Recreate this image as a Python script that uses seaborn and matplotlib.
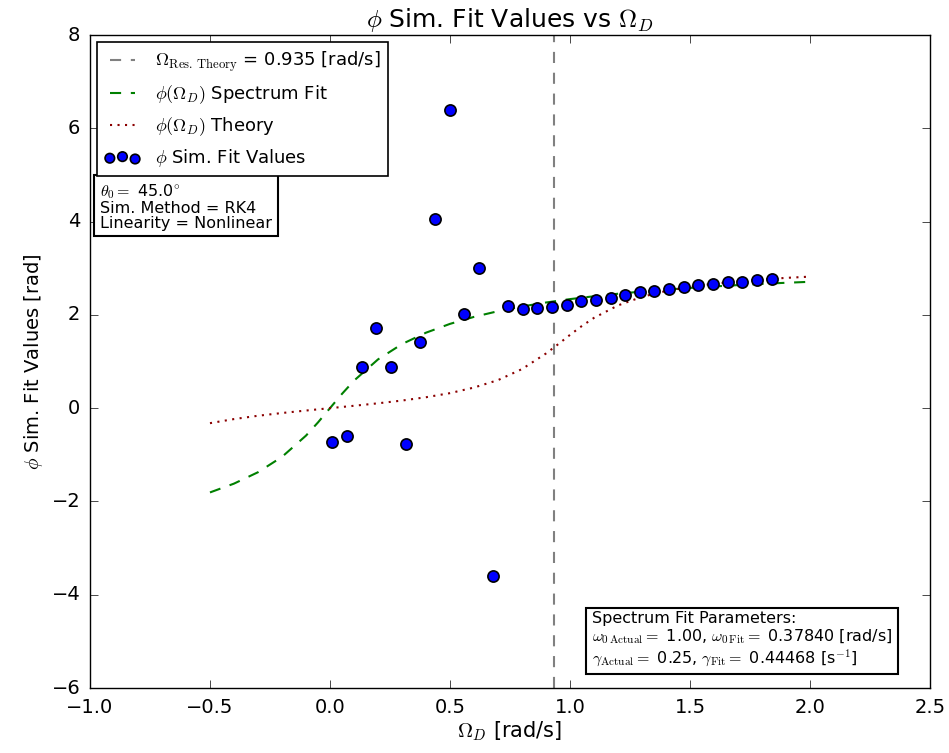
import numpy as np
import pandas as pd
import matplotlib
matplotlib.use("Agg")
import matplotlib.pyplot as plt
import seaborn as sns

# ---- data ----
sim_x = [0.01, 0.071, 0.132, 0.193, 0.254, 0.315, 0.376, 0.437, 0.498, 0.559,
         0.62, 0.681, 0.742, 0.803, 0.864, 0.925, 0.986, 1.047, 1.108, 1.169,
         1.23, 1.291, 1.352, 1.413, 1.474, 1.535, 1.596, 1.657, 1.718, 1.779, 1.84]
sim_phi = [-0.72, -0.59, 0.89, 1.72, 0.89, -0.76, 1.42, 4.06, 6.40, 2.02,
           3.00, -3.60, 2.20, 2.12, 2.14, 2.165, 2.215, 2.29, 2.31, 2.365,
           2.42, 2.48, 2.52, 2.56, 2.60, 2.64, 2.67, 2.695, 2.715, 2.75, 2.765]

fit_x = [-0.5, -0.4, -0.3, -0.2, -0.1, -0.05, 0.0, 0.05, 0.1, 0.2, 0.3, 0.4, 0.5,
         0.6, 0.7, 0.8, 0.9, 1.0, 1.1, 1.2, 1.3, 1.4, 1.5, 1.6, 1.7, 1.8, 1.9, 2.0]
fit_phi = [-1.807, -1.618, -1.374, -1.045, -0.589, -0.306, 0.0, 0.306, 0.589, 1.045,
           1.374, 1.618, 1.807, 1.957, 2.079, 2.180, 2.265, 2.338, 2.399, 2.453,
           2.500, 2.541, 2.577, 2.609, 2.638, 2.665, 2.688, 2.709]

theory_x = [-0.5, -0.4, -0.3, -0.2, -0.1, 0.0, 0.1, 0.2, 0.3, 0.4, 0.5, 0.6, 0.7,
            0.8, 0.9, 0.95, 1.0, 1.05, 1.1, 1.2, 1.3, 1.4, 1.5, 1.6, 1.7, 1.8, 1.9, 2.0]
theory_phi = [-0.322, -0.234, -0.163, -0.104, -0.051, 0.0, 0.051, 0.104, 0.163, 0.234,
              0.322, 0.442, 0.601, 0.838, 1.172, 1.368, 1.571, 1.764, 1.936, 2.203,
              2.386, 2.512, 2.601, 2.668, 2.719, 2.759, 2.793, 2.820]

omega_res = 0.935

plt.style.use("classic")
plt.rcParams["figure.facecolor"] = "white"
plt.rcParams["savefig.facecolor"] = "white"
plt.rcParams["font.family"] = ["DejaVu Sans"]
plt.rcParams["mathtext.fontset"] = "cm"
plt.rcParams["lines.scale_dashes"] = False

fig = plt.figure(figsize=(9.49, 7.53), dpi=100)
ax = fig.add_axes([0.0948, 0.0863, 0.8852, 0.8672])

ax.axvline(omega_res, color="0.5", linestyle=(0, (8, 7)), linewidth=1.5,
           label=r"$\Omega_{\mathrm{Res.\,Theory}}$ = 0.935 [rad/s]")

fit_df = pd.DataFrame({"x": fit_x, "y": fit_phi})
theory_df = pd.DataFrame({"x": theory_x, "y": theory_phi})
sim_df = pd.DataFrame({"x": sim_x, "y": sim_phi})

sns.lineplot(data=fit_df, x="x", y="y", ax=ax, color="green", linestyle=(0, (8, 7)),
             linewidth=1.5, label=r"$\phi(\Omega_D)$ Spectrum Fit", sort=False)
sns.lineplot(data=theory_df, x="x", y="y", ax=ax, color="darkred", linestyle=(0, (1.5, 3.9)),
             linewidth=1.5, label=r"$\phi(\Omega_D)$ Theory", sort=False)
sns.scatterplot(data=sim_df, x="x", y="y", ax=ax, color="blue", edgecolor="black",
                linewidth=1.2, s=65, zorder=5, label=r"$\phi$ Sim. Fit Values")

ax.set_xlim(-1.0, 2.5)
ax.set_ylim(-6, 8)
ax.set_xticks([-1.0, -0.5, 0.0, 0.5, 1.0, 1.5, 2.0, 2.5])
ax.set_yticks([-6, -4, -2, 0, 2, 4, 6, 8])
ax.tick_params(labelsize=14, direction="in", length=6, top=True, right=True)
ax.tick_params(axis="x", pad=7)
ax.tick_params(axis="y", pad=7)
ax.set_xlabel(r"$\Omega_D$ [rad/s]", fontsize=15, labelpad=2)
ax.set_ylabel(r"$\phi$ Sim. Fit Values [rad]", fontsize=14)
ax.set_title(r"$\phi$ Sim. Fit Values vs $\Omega_D$", fontsize=18, pad=6)

leg = ax.legend(loc="upper left", fontsize=13, scatterpoints=3,
                scatteryoffsets=[0.375, 0.5, 0.3125], fancybox=False,
                frameon=True, borderaxespad=0.4, markerscale=0.85)
leg.get_frame().set_edgecolor("black")
leg.get_frame().set_linewidth(1.2)

ax.text(0.012, 0.775,
        "$\\theta_0 = $ 45.0$^{\\circ}$\nSim. Method = RK4\nLinearity = Nonlinear",
        transform=ax.transAxes, fontsize=11.5, va="top", ha="left", linespacing=1.0,
        bbox=dict(boxstyle="square,pad=0.35", facecolor="white", edgecolor="black",
                  linewidth=1.5))

ax.text(0.955, 0.03,
        "Spectrum Fit Parameters:\n"
        "$\\omega_{0\\,\\mathrm{Actual}} = $ 1.00, $\\omega_{0\\,\\mathrm{Fit}} = $ 0.37840 [rad/s]\n"
        "$\\gamma_{\\mathrm{Actual}} = $ 0.25, $\\gamma_{\\mathrm{Fit}} = $ 0.44468 [s$^{-1}$]",
        transform=ax.transAxes, fontsize=11.5, va="bottom", ha="right", ma="left",
        linespacing=1.1,
        bbox=dict(boxstyle="square,pad=0.35", facecolor="white", edgecolor="black",
                  linewidth=1.5))

fig.savefig("out.png", dpi=100)
